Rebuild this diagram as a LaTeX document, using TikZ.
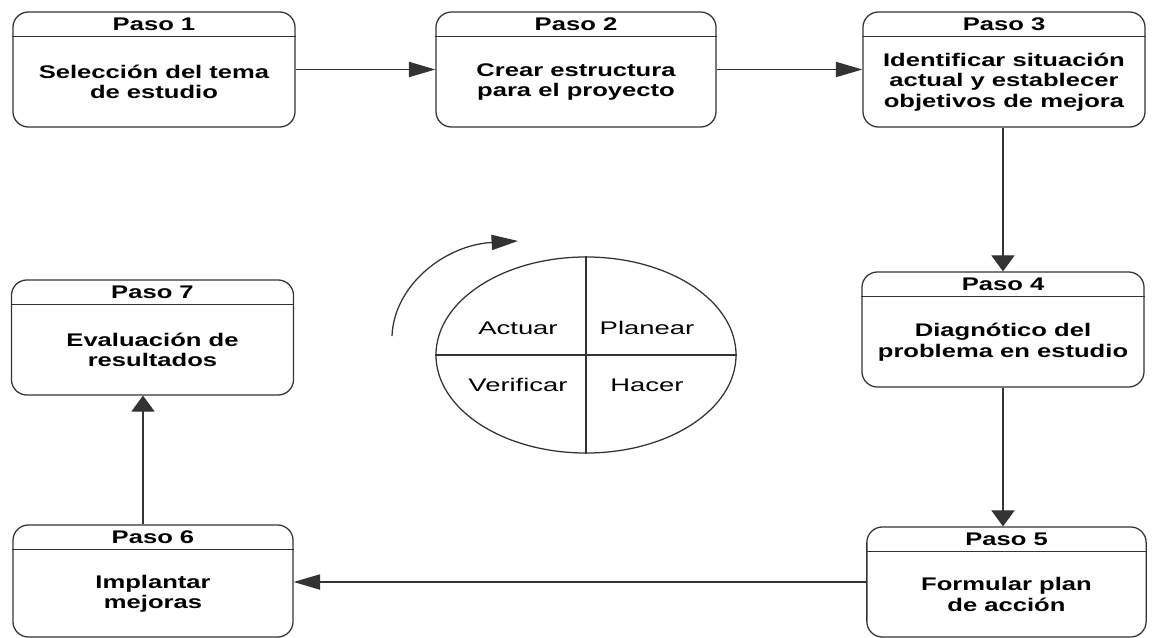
\documentclass[tikz,border=0pt]{standalone}
\usepackage{fontspec}
\usepackage{tikz}
\usepackage{xcolor}
\usetikzlibrary{shapes.geometric, arrows.meta, positioning}

\newfontfamily\stepfont[FakeStretch=1.4]{Liberation Sans}
\newfontfamily\quadfont[FakeStretch=1.5]{Liberation Sans}
\definecolor{linegray}{gray}{0.2}

\tikzset{
    stepbox/.style={rectangle, draw=linegray, line width=0.9pt, rounded corners=11pt,
        minimum width=7.05cm, minimum height=2.875cm},
    head/.style={font=\stepfont\bfseries\fontsize{13}{14.5}\selectfont, inner sep=0pt},
    body/.style={font=\stepfont\bfseries\fontsize{13}{14.5}\selectfont, align=center, inner sep=0pt},
    quad/.style={font=\quadfont\fontsize{13}{14.5}\selectfont, inner sep=0pt},
    hflow/.style={-{Triangle[length=0.66cm, width=0.38cm]}, draw=linegray, line width=0.9pt},
    vflow/.style={-{Triangle[length=0.4cm, width=0.58cm]}, draw=linegray, line width=0.9pt}
}

\begin{document}
\begin{tikzpicture}[x=0.025cm, y=-0.025cm]
\useasboundingbox (0,0) rectangle (1152,638);

% the seven steps
\node (p1) [stepbox] at (154,69.5) {};
\node (p2) [stepbox, minimum width=7cm] at (576,69.5) {};
\node (p3) [stepbox] at (1004,69.5) {};
\node (p4) [stepbox] at (1003,329.5) {};
\node (p5) [stepbox, minimum width=6.98cm, minimum height=2.75cm] at (1006.5,582) {};
\node (p6) [stepbox, minimum width=7cm, minimum height=2.8cm] at (153,581) {};
\node (p7) [stepbox] at (152.5,337.5) {};

\foreach \n in {1,...,7} {
    \draw [linegray, line width=0.9pt] ([yshift=-0.625cm]p\n.north west) -- ([yshift=-0.625cm]p\n.north east);
    \node (h\n) [head] at ([yshift=-0.3125cm]p\n.north) {Paso \n};
}

\node (t1) [body] at ([yshift=-0.3125cm]p1.center) {Selección del tema\\de estudio};
\node (t2) [body] at ([yshift=-0.3125cm]p2.center) {Crear estructura\\para el proyecto};
\node (t3) [body] at ([yshift=-0.3125cm]p3.center) {Identificar situación\\actual y establecer\\objetivos de mejora};
\node (t4) [body] at ([yshift=-0.3125cm]p4.center) {Diagnótico del\\problema en estudio};
\node (t5) [body] at ([yshift=-0.3125cm]p5.center) {Formular plan\\de acción};
\node (t6) [body] at ([yshift=-0.3125cm]p6.center) {Implantar\\mejoras};
\node (t7) [body] at ([yshift=-0.3125cm]p7.center) {Evaluación de\\resultados};

\draw [hflow] (p1) -- (p2);
\draw [hflow] (p2) -- (p3);
\draw [vflow] (p4.north |- p3.south) -- (p4.north);
\draw [vflow] (p4.south) -- (p4.south |- p5.north);
\draw [hflow] (p5.west) -- (p5.west -| p6.east);
\draw [vflow] ([xshift=-0.25cm]p6.north) -- ([xshift=-0.25cm]p6.north |- p7.south);

% PDCA wheel
\node (pdca) [ellipse, draw=linegray, line width=0.9pt, minimum width=7.5cm, minimum height=4.9cm, inner sep=0pt] at (586,355) {};
\draw [linegray, line width=0.9pt] (pdca.north) -- (pdca.south);
\draw [linegray, line width=0.9pt] (pdca.west) -- (pdca.east);

\node (act) [quad] at (518,328) {Actuar};
\node (pla) [quad] at (647,328) {Planear};
\node (ver) [quad] at (518,385) {Verificar};
\node (hac) [quad] at (647,385) {Hacer};

\coordinate (cyc1) at (392,336);
\coordinate (cyc2) at (518,241);
\draw [hflow] (cyc1) .. controls (394,285) and (445,245) .. (cyc2);

\end{tikzpicture}
\end{document}
